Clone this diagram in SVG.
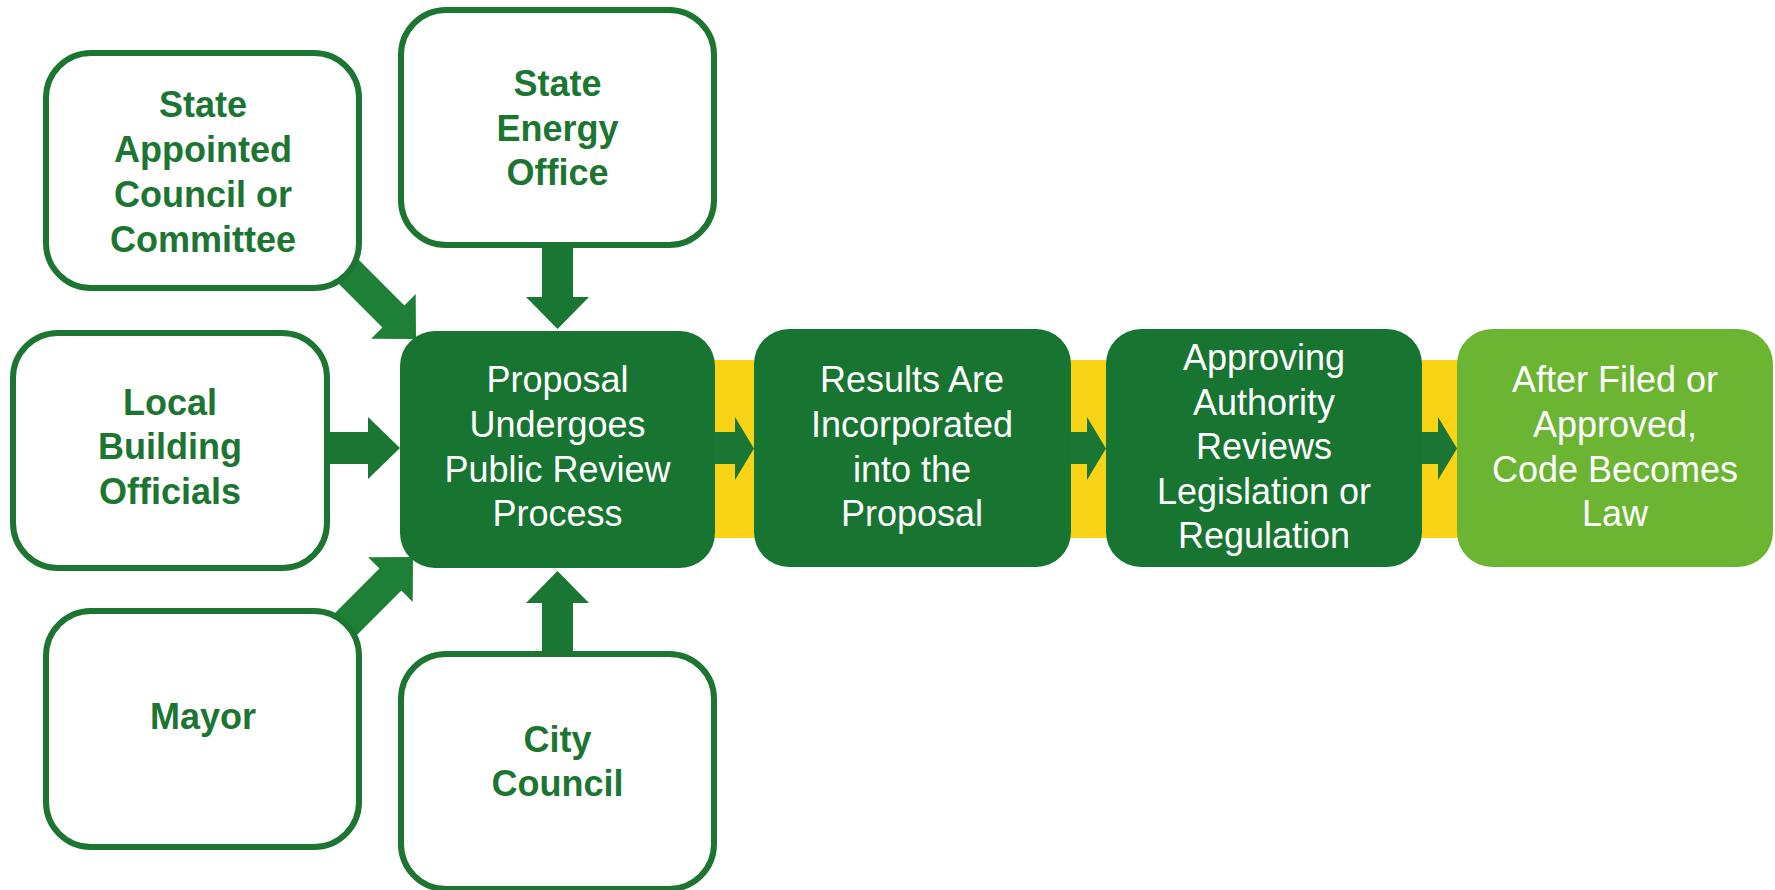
<svg xmlns="http://www.w3.org/2000/svg" width="1775" height="890" viewBox="0 0 1775 890">
  <style>
    .out { fill: #ffffff; stroke: #1c7632; stroke-width: 6; }
    .dark { fill: #187431; }
    .light { fill: #6cb533; }
    .arrow { fill: #1a7733; }
    .diag { fill: #1e7f37; }
    .bt { font-family: "Liberation Sans", Arial, sans-serif; font-weight: bold; font-size: 36px; fill: #1c7632; text-anchor: middle; }
    .wt { font-family: "Liberation Sans", Arial, sans-serif; font-size: 36px; fill: #ffffff; text-anchor: middle; }
  </style>
  <rect x="0" y="0" width="1775" height="890" fill="#ffffff"/>
  <rect id="band" x="680" y="360" width="800" height="178" fill="#f9d315"/>

  <g id="connectors">
    <polygon class="arrow" points="542,246 573,246 573,297 589,297 557.5,329 526,297 542,297"/>
    <polygon class="arrow" points="542,654 573,654 573,603 589,603 557.5,571 526,603 542,603"/>
    <polygon class="arrow" points="327,432 368,432 368,417 400,448 368,479 368,464 327,464"/>
    <polygon class="diag" points="341,242 404.4,305.4 415.7,294.1 416,339 371.1,338.7 382.4,327.4 319,264"/>
    <polygon class="diag" points="319,629 379.4,568.6 368.1,557.3 413,557 412.7,601.9 401.4,590.6 341,651"/>
    <polygon class="arrow" points="705,432 735,432 735,417 754,448.5 735,480 735,464 705,464"/>
    <polygon class="arrow" points="1060,432 1087,432 1087,417 1106,448.5 1087,480 1087,464 1060,464"/>
    <polygon class="arrow" points="1411,432 1438,432 1438,417 1457,448.5 1438,480 1438,464 1411,464"/>
  </g>

  <g id="state-appointed">
    <rect class="out" x="46" y="53" width="313" height="235" rx="45"/>
    <text class="bt" x="203" y="117">State</text>
    <text class="bt" x="203" y="162">Appointed</text>
    <text class="bt" x="203" y="207">Council or</text>
    <text class="bt" x="203" y="252">Committee</text>
  </g>
  <g id="state-energy">
    <rect class="out" x="401" y="10" width="313" height="235" rx="45"/>
    <text class="bt" x="557.5" y="96">State</text>
    <text class="bt" x="557.5" y="141">Energy</text>
    <text class="bt" x="557.5" y="185">Office</text>
  </g>
  <g id="local-building">
    <rect class="out" x="13" y="333" width="314" height="235" rx="45"/>
    <text class="bt" x="170" y="415">Local</text>
    <text class="bt" x="170" y="459">Building</text>
    <text class="bt" x="170" y="504">Officials</text>
  </g>
  <g id="mayor">
    <rect class="out" x="46" y="611" width="313" height="236" rx="45"/>
    <text class="bt" x="203" y="729">Mayor</text>
  </g>
  <g id="city-council">
    <rect class="out" x="401" y="654" width="313" height="235" rx="45"/>
    <text class="bt" x="557.5" y="752">City</text>
    <text class="bt" x="557.5" y="796">Council</text>
  </g>

  <g id="proposal">
    <rect class="dark" x="400" y="331" width="315" height="237" rx="35"/>
    <text class="wt" x="557.5" y="392">Proposal</text>
    <text class="wt" x="557.5" y="437">Undergoes</text>
    <text class="wt" x="557.5" y="482">Public Review</text>
    <text class="wt" x="557.5" y="526">Process</text>
  </g>
  <g id="results">
    <rect class="dark" x="754" y="329" width="317" height="238" rx="35"/>
    <text class="wt" x="912" y="392">Results Are</text>
    <text class="wt" x="912" y="437">Incorporated</text>
    <text class="wt" x="912" y="482">into the</text>
    <text class="wt" x="912" y="526">Proposal</text>
  </g>
  <g id="approving">
    <rect class="dark" x="1106" y="329" width="316" height="238" rx="35"/>
    <text class="wt" x="1264" y="370">Approving</text>
    <text class="wt" x="1264" y="415">Authority</text>
    <text class="wt" x="1264" y="459">Reviews</text>
    <text class="wt" x="1264" y="504">Legislation or</text>
    <text class="wt" x="1264" y="548">Regulation</text>
  </g>
  <g id="after-filed">
    <rect class="light" x="1457" y="329" width="316" height="238" rx="35"/>
    <text class="wt" x="1615" y="392">After Filed or</text>
    <text class="wt" x="1615" y="437">Approved,</text>
    <text class="wt" x="1615" y="482">Code Becomes</text>
    <text class="wt" x="1615" y="526">Law</text>
  </g>
</svg>
